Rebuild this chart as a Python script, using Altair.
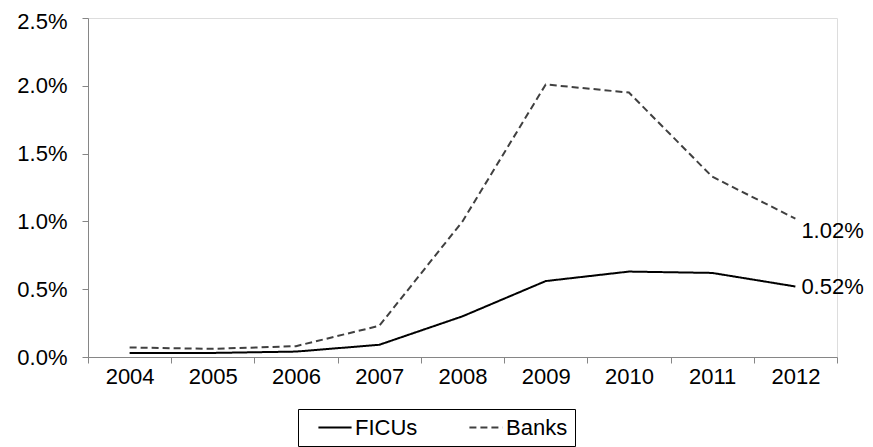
import altair as alt
import pandas as pd

years = ["2004", "2005", "2006", "2007", "2008", "2009", "2010", "2011", "2012"]
ficus = [0.03, 0.03, 0.04, 0.09, 0.30, 0.56, 0.63, 0.62, 0.52]
banks = [0.07, 0.06, 0.08, 0.23, 1.00, 2.01, 1.95, 1.33, 1.02]
series_names = ["FICUs", "Banks"]
end_labels = ["0.52%", "1.02%"]

rows = []
for y, f, b in zip(years, ficus, banks):
    rows.append({"year": y, "series": "FICUs", "value": f / 100})
    rows.append({"year": y, "series": "Banks", "value": b / 100})
df = pd.DataFrame(rows)

lab_df = pd.DataFrame({
    "year": [years[-1], years[-1]],
    "series": series_names,
    "value": [ficus[-1] / 100, banks[-1] / 100],
    "label": end_labels,
})

FONT = "Liberation Sans"

x_enc = alt.X("year:N", sort=years, title=None,
              scale=alt.Scale(paddingInner=0, paddingOuter=0),
              axis=alt.Axis(labelAngle=0, tickBand="extent", tickSize=6,
                            labelPadding=3, domainColor="#868686",
                            tickColor="#868686", labelFont=FONT,
                            labelFontSize=22, labelColor="#000000",
                            grid=False))
y_enc = alt.Y("value:Q", title=None,
              scale=alt.Scale(domain=[0, 0.025], nice=False),
              axis=alt.Axis(values=[0, 0.005, 0.01, 0.015, 0.02, 0.025],
                            format=".1%", tickSize=6, labelPadding=15,
                            labelOffset={"condition": {"test": "datum.value >= 0.025", "value": 3.5}, "value": 0},
                            domainColor="#868686", tickColor="#868686",
                            labelFont=FONT, labelFontSize=22,
                            labelColor="#000000", grid=False))

leg = alt.Legend(orient="none", legendX=210, legendY=391, direction="horizontal",
                 title=None, strokeColor="#000000", padding=7,
                 symbolType="stroke", symbolSize=1100, symbolStrokeWidth=2,
                 symbolOffset=12, clipHeight=23,
                 labelFont=FONT, labelFontSize=22, labelColor="#000000",
                 labelOffset=2, columnPadding=38, fillColor="white")

lines = alt.Chart(df).mark_line(strokeWidth=2).encode(
    x=x_enc,
    y=y_enc,
    color=alt.Color("series:N", scale=alt.Scale(domain=series_names,
                                                 range=["#000000", "#404040"]),
                    legend=leg),
    strokeDash=alt.StrokeDash("series:N", scale=alt.Scale(domain=series_names,
                                                           range=[[1, 0], [7, 4]]),
                              legend=leg),
)

lab_f = alt.Chart(lab_df).transform_filter(alt.datum.series == "FICUs").mark_text(
    align="left", baseline="middle", dx=6, dy=1, font=FONT, fontSize=22, color="#000000"
).encode(x=alt.X("year:N", sort=years), y="value:Q", text="label:N")

lab_b = alt.Chart(lab_df).transform_filter(alt.datum.series == "Banks").mark_text(
    align="left", baseline="middle", dx=6, dy=12, font=FONT, fontSize=22, color="#000000"
).encode(x=alt.X("year:N", sort=years), y="value:Q", text="label:N")

chart = alt.layer(lines, lab_f, lab_b).properties(
    width=749, height=339,
    autosize=alt.AutoSizeParams(type="none"),
    padding={"left": 80, "top": 10, "right": 28, "bottom": 90},
).configure_view(stroke=None).configure(background="white")

chart.save("out.html", embed_options={"renderer": "svg", "actions": False})
